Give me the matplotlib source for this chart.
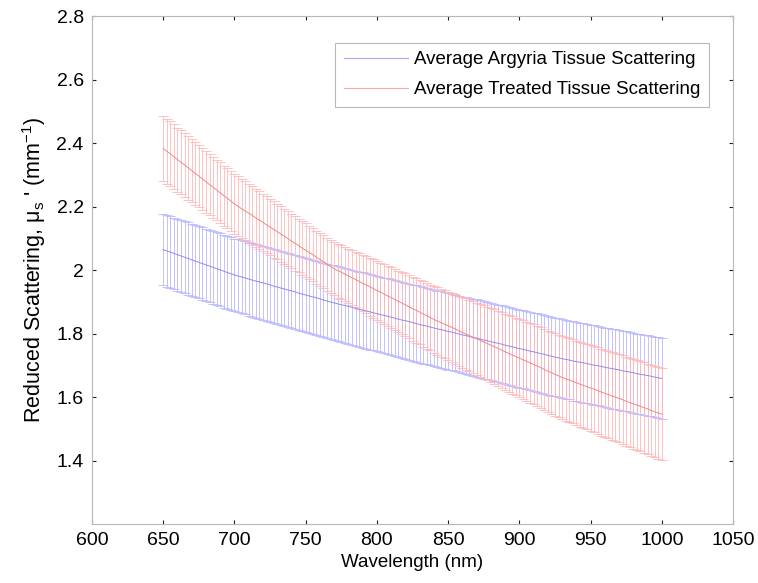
import numpy as np
import matplotlib
matplotlib.use("Agg")
import matplotlib.pyplot as plt
from matplotlib.lines import Line2D

plt.rcParams['font.family'] = ['Liberation Sans', 'DejaVu Sans']
plt.rcParams['mathtext.fontset'] = 'custom'
plt.rcParams['mathtext.rm'] = 'Liberation Sans'
plt.rcParams['mathtext.it'] = 'Liberation Sans:italic'

# wavelength grid (nm), one point every 2.5 nm
wavelength = np.arange(650, 1000.1, 2.5)

argyria_mean = [
    2.065, 2.061, 2.057, 2.053, 2.049, 2.045, 2.041, 2.037, 2.033, 2.029,
    2.025, 2.021, 2.017, 2.013, 2.009, 2.005, 2.001, 1.997, 1.993, 1.989,
    1.985, 1.982, 1.979, 1.976, 1.972, 1.969, 1.966, 1.963, 1.960, 1.957,
    1.954, 1.950, 1.947, 1.944, 1.941, 1.938, 1.935, 1.932, 1.928, 1.925,
    1.922, 1.919, 1.916, 1.913, 1.910, 1.906, 1.903, 1.900, 1.897, 1.894,
    1.891, 1.889, 1.886, 1.883, 1.880, 1.877, 1.874, 1.872, 1.869, 1.866,
    1.863, 1.860, 1.858, 1.855, 1.852, 1.849, 1.846, 1.843, 1.841, 1.838,
    1.835, 1.832, 1.829, 1.826, 1.824, 1.821, 1.818, 1.815, 1.813, 1.810,
    1.807, 1.805, 1.802, 1.799, 1.796, 1.794, 1.791, 1.788, 1.786, 1.783,
    1.780, 1.778, 1.775, 1.772, 1.770, 1.767, 1.764, 1.761, 1.759, 1.756,
    1.753, 1.751, 1.748, 1.745, 1.743, 1.740, 1.737, 1.735, 1.732, 1.729,
    1.726, 1.724, 1.721, 1.719, 1.717, 1.714, 1.712, 1.710, 1.708, 1.706,
    1.703, 1.701, 1.699, 1.697, 1.694, 1.692, 1.690, 1.688, 1.686, 1.683,
    1.681, 1.679, 1.677, 1.674, 1.672, 1.670, 1.668, 1.666, 1.663, 1.661,
    1.659]

argyria_err = (
    [0.113] * 5 + [0.114] * 10 + [0.115] * 10 + [0.116] * 10 + [0.117] * 10 +
    [0.118] * 10 + [0.119] * 10 + [0.120] * 10 + [0.121] * 10 + [0.122] * 10 +
    [0.123] * 10 + [0.124] * 10 + [0.125] * 10 + [0.126] * 10 + [0.127] * 6)

treated_mean = [
    2.384, 2.375, 2.367, 2.358, 2.349, 2.340, 2.332, 2.323, 2.314, 2.305,
    2.297, 2.288, 2.279, 2.270, 2.262, 2.253, 2.244, 2.235, 2.227, 2.218,
    2.209, 2.202, 2.194, 2.187, 2.180, 2.173, 2.165, 2.158, 2.151, 2.143,
    2.136, 2.129, 2.122, 2.114, 2.107, 2.100, 2.092, 2.085, 2.078, 2.070,
    2.063, 2.056, 2.049, 2.041, 2.034, 2.027, 2.019, 2.012, 2.005, 1.999,
    1.994, 1.988, 1.982, 1.976, 1.971, 1.965, 1.959, 1.954, 1.948, 1.942,
    1.936, 1.931, 1.925, 1.919, 1.914, 1.908, 1.902, 1.897, 1.891, 1.885,
    1.879, 1.874, 1.868, 1.862, 1.857, 1.851, 1.845, 1.840, 1.835, 1.830,
    1.825, 1.820, 1.815, 1.809, 1.804, 1.799, 1.794, 1.789, 1.784, 1.779,
    1.774, 1.769, 1.764, 1.759, 1.754, 1.748, 1.743, 1.738, 1.733, 1.728,
    1.723, 1.718, 1.713, 1.708, 1.703, 1.698, 1.693, 1.687, 1.682, 1.677,
    1.672, 1.667, 1.662, 1.658, 1.654, 1.650, 1.645, 1.641, 1.637, 1.633,
    1.629, 1.625, 1.621, 1.616, 1.612, 1.608, 1.604, 1.600, 1.596, 1.592,
    1.587, 1.583, 1.579, 1.575, 1.571, 1.567, 1.563, 1.558, 1.554, 1.550,
    1.546]

treated_err = [
    0.103, 0.103, 0.102, 0.102, 0.101, 0.101, 0.100, 0.100, 0.099, 0.099,
    0.098, 0.098, 0.097, 0.097, 0.096, 0.096, 0.096, 0.095, 0.095, 0.094,
    0.094, 0.094, 0.093, 0.093, 0.092, 0.092, 0.091, 0.091, 0.090, 0.090,
    0.089, 0.089, 0.088, 0.088, 0.087, 0.087, 0.086, 0.086, 0.085, 0.085,
    0.085, 0.085, 0.084, 0.084, 0.084, 0.084, 0.084, 0.084, 0.084, 0.085,
    0.085, 0.086, 0.086, 0.087, 0.087, 0.088, 0.089, 0.090, 0.091, 0.092,
    0.093, 0.093, 0.094, 0.095, 0.096, 0.096, 0.097, 0.098, 0.099, 0.100,
    0.101, 0.102, 0.102, 0.103, 0.104, 0.104, 0.105, 0.106, 0.107, 0.107,
    0.108, 0.109, 0.110, 0.110, 0.111, 0.112, 0.113, 0.113, 0.114, 0.115,
    0.116, 0.116, 0.117, 0.118, 0.119, 0.119, 0.120, 0.121, 0.122, 0.122,
    0.123, 0.124, 0.124, 0.125, 0.126, 0.126, 0.127, 0.128, 0.128, 0.129,
    0.130, 0.130, 0.131, 0.132, 0.132, 0.133, 0.133, 0.134, 0.134, 0.135,
    0.135, 0.136, 0.136, 0.137, 0.137, 0.138, 0.138, 0.139, 0.139, 0.140,
    0.140, 0.141, 0.141, 0.142, 0.142, 0.143, 0.143, 0.144, 0.144, 0.145,
    0.145]

labels = ['Average Argyria Tissue Scattering', 'Average Treated Tissue Scattering']
xticks = [600, 650, 700, 750, 800, 850, 900, 950, 1000, 1050]
yticks = [1.4, 1.6, 1.8, 2.0, 2.2, 2.4, 2.6, 2.8]

blue_line, blue_bar = '#8c8cf4', '#b8b8ff'
red_line, red_bar = '#f08888', '#ffb8b8'

fig = plt.figure(figsize=(7.58, 5.83), dpi=100)
ax = fig.add_axes([0.1214, 0.1012, 0.8456, 0.8705])

ax.errorbar(wavelength, argyria_mean, yerr=argyria_err, color=blue_line,
            ecolor=blue_bar, lw=0.7, elinewidth=0.6, capsize=3.6,
            capthick=0.6)
ax.errorbar(wavelength, treated_mean, yerr=treated_err, color=red_line,
            ecolor=red_bar, lw=0.7, elinewidth=0.6, capsize=3.6,
            capthick=0.6)

ax.set_xlim(600, 1050)
ax.set_ylim(1.2, 2.8)
ax.set_xticks(xticks)
ax.set_yticks(yticks)
ax.set_yticklabels(['1.4', '1.6', '1.8', '2', '2.2', '2.4', '2.6', '2.8'])

for s in ax.spines.values():
    s.set_color('#b8b8b8')
    s.set_linewidth(0.8)
ax.tick_params(direction='in', length=3, width=0.8, color='#222222',
               labelsize=14, top=True, right=True, pad=6)

ax.set_xlabel('Wavelength (nm)', fontsize=13.5, labelpad=3)
ax.set_ylabel(r"Reduced Scattering, $\mathrm{\mu_s}$ ' (mm$^{\mathrm{-1}}$)",
              fontsize=15.5, labelpad=6)

handles = [Line2D([], [], color='#a8a8f8', lw=0.8),
           Line2D([], [], color='#f8a8a8', lw=0.8)]
leg = ax.legend(handles, labels, loc='upper right',
                bbox_to_anchor=(0.9626, 0.948), borderaxespad=0,
                fontsize=13.5, handlelength=3.4, handletextpad=0.35,
                labelspacing=0.68, borderpad=0.45, fancybox=False,
                framealpha=1, edgecolor='#b8b8b8')
leg.get_frame().set_linewidth(0.8)

fig.savefig('out.png', dpi=100)
